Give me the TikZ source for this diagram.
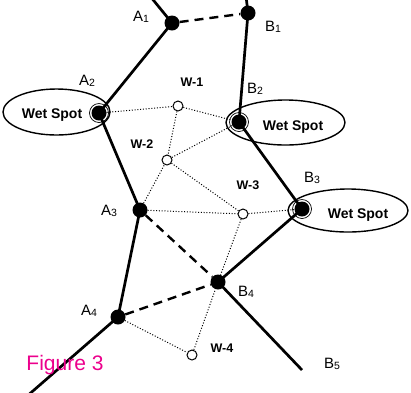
\documentclass[tikz,border=0pt]{standalone}
\usepackage{fontspec}
\setmainfont{Liberation Sans}
\usepackage{xcolor}
\usetikzlibrary{positioning}

\newcommand{\ptlbl}[2]{#1\raisebox{-1pt}{\fontsize{10.5}{10.5}\selectfont #2}}

\tikzset{
  joint/.style={circle,fill=black,inner sep=0pt,minimum size=15pt},
  well/.style={circle,draw=black,fill=white,line width=1pt,inner sep=0pt,minimum size=10pt},
  fault/.style={line width=2.7pt},
  link/.style={line width=2.4pt,dash pattern=on 9pt off 6pt},
  tie/.style={line width=1pt,dash pattern=on 1pt off 1.8pt},
  spotline/.style={line width=1.4pt},
  tag/.style={font=\fontsize{15}{15}\selectfont,inner sep=0pt},
  wtag/.style={font=\fontsize{12.5}{12.5}\selectfont\bfseries,inner sep=0pt},
  spottag/.style={font=\fontsize{14}{14}\selectfont\bfseries,inner sep=0pt}
}

\begin{document}
\begin{tikzpicture}[x=1pt,y=-1pt]
  \useasboundingbox (0,0) rectangle (411,392);
  \clip (0,0) rectangle (411,392);
  % wet spots
  \draw[spotline] (56.5,112) ellipse (53.5 and 23);
  \draw[spotline] (285.5,122.5) ellipse (59.5 and 22.5);
  \draw[spotline] (348,210.5) ellipse (60 and 21.5);
  \node[spottag] (s1) at (52,115) {Wet Spot};
  \node[spottag] (s2) at (293,127) {Wet Spot};
  \node[spottag] (s3) at (358,215) {Wet Spot};

  % points
  \coordinate (A0) at (150,-4);
  \coordinate (B0) at (246,-4);
  \coordinate (A5) at (26,397);
  \coordinate (B5) at (302,370);
  \node[joint] (A1) at (172,23) {};
  \node[joint] (B1) at (248,13) {};
  \node[joint] (A2) at (99,113) {};
  \node[joint] (B2) at (239,122) {};
  \node[joint] (A3) at (140,210) {};
  \node[joint] (B3) at (302,209) {};
  \node[joint] (A4) at (118,317) {};
  \node[joint] (B4) at (218,282) {};
  \node[well] (W1) at (178,106) {};
  \node[well] (W2) at (167,160) {};
  \node[well] (W3) at (243,214) {};
  \node[well] (W4) at (192,355) {};

  % faults
  \draw[fault] (A0) -- (A1.center) -- (A2.center) -- (A3.center) -- (A4.center) -- (A5);
  \draw[fault] (B0) -- (B1.center) -- (B2.center) -- (B3.center) -- (B4.center) -- (B5);
  \draw[link] (A1) -- (B1);
  \draw[link] (A3) -- (B4);
  \draw[link] (A4) -- (B4);

  % well ties
  \draw[tie] (A2) -- (W1) -- (B2);
  \draw[tie] (W1) -- (W2) -- (B2);
  \draw[tie] (A3) -- (W2) -- (W3);
  \draw[tie] (A3) -- (W3) -- (B3);
  \draw[tie] (W3) -- (B4);
  \draw[tie] (A4) -- (W4) -- (B4);

  % rings at wet spots
  \foreach \p in {A2,B2,B3}
    \draw[line width=0.7pt] (\p) circle (9.5pt);

  % labels
  \node[tag] (lA1) at (141,17) {\ptlbl{A}{1}};
  \node[tag] (lB1) at (273,27) {\ptlbl{B}{1}};
  \node[tag] (lA2) at (87,81) {\ptlbl{A}{2}};
  \node[tag] (lB2) at (255,89) {\ptlbl{B}{2}};
  \node[tag] (lA3) at (109,211) {\ptlbl{A}{3}};
  \node[tag] (lB3) at (312,178) {\ptlbl{B}{3}};
  \node[tag] (lA4) at (89,311) {\ptlbl{A}{4}};
  \node[tag] (lB4) at (246,292) {\ptlbl{B}{4}};
  \node[tag] (lB5) at (332,364) {\ptlbl{B}{5}};
  \node[wtag] (lW1) at (192,82) {W-1};
  \node[wtag] (lW2) at (142,144) {W-2};
  \node[wtag] (lW3) at (248,185) {W-3};
  \node[wtag] (lW4) at (222,348) {W-4};
  \node[font=\fontsize{21}{21}\selectfont,text=magenta,inner sep=0pt] (fig) at (65,365) {Figure 3};
\end{tikzpicture}
\end{document}
